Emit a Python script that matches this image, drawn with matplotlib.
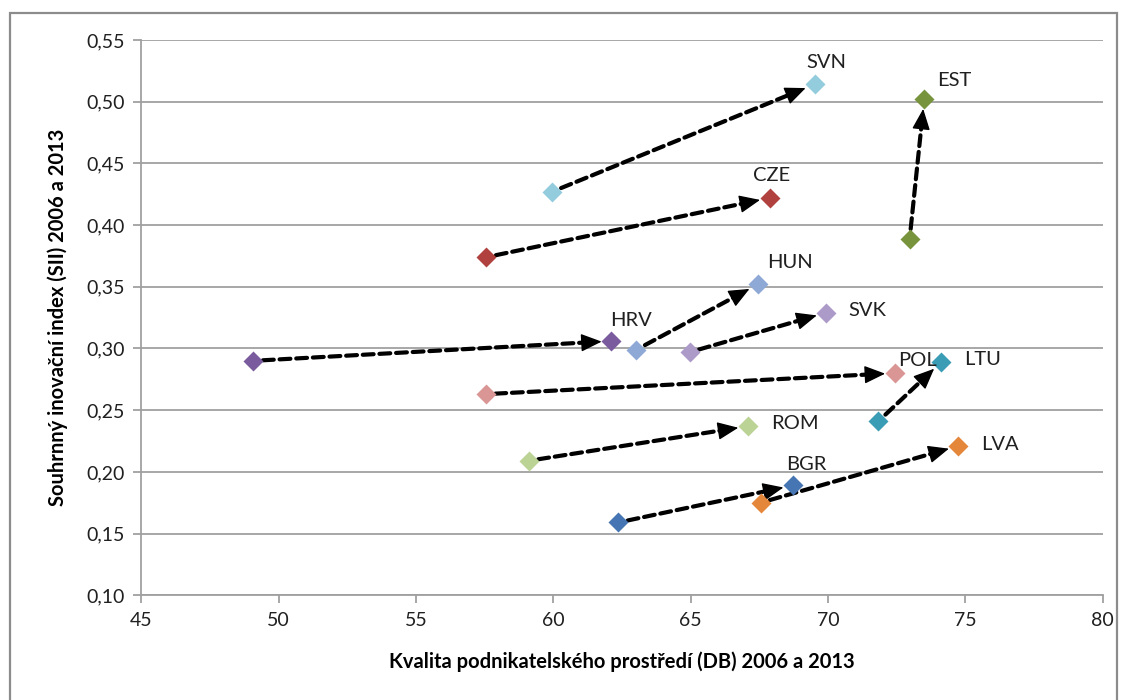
import numpy as np
import matplotlib
matplotlib.use("Agg")
import matplotlib.pyplot as plt
from matplotlib.patches import Rectangle

plt.rcParams["font.family"] = ["Lato", "DejaVu Sans"]

# DB score (x) and SII (y) per country, 2006 -> 2013
countries = ["SVN", "CZE", "EST", "HUN", "HRV", "SVK", "POL", "LTU", "ROM", "BGR", "LVA"]
db_2006   = [59.95, 57.56, 72.97, 63.02, 49.07, 64.96, 57.53, 71.83, 59.10, 62.36, 67.54]
db_2013   = [69.51, 67.87, 73.50, 67.45, 62.11, 69.93, 72.43, 74.12, 67.08, 68.72, 74.74]
sii_2006  = [0.427, 0.374, 0.389, 0.299, 0.290, 0.297, 0.263, 0.241, 0.209, 0.159, 0.175]
sii_2013  = [0.514, 0.422, 0.502, 0.352, 0.306, 0.329, 0.280, 0.289, 0.237, 0.189, 0.221]

colors = ["#93CDDD", "#B0413E", "#77933C", "#8EA9D6", "#7A5C9E", "#AC9BC8",
          "#D99694", "#3A9DB5", "#BBD394", "#4675B3", "#E5873A"]
# label offsets from the 2013 point, in pixels
label_off = [(12, 22), (2, 22), (30, 19), (32, 22), (20, 21), (41, 2),
             (23, 13), (41, 3), (47, 3), (13, 21), (42, 1)]

fig = plt.figure(figsize=(11.28, 7), dpi=100)
ax = fig.add_axes([0.1254, 0.1496, 0.8522, 0.7933])
ax.set_xlim(45, 80)
ax.set_ylim(0.10, 0.55)
ax.set_xticks(np.arange(45, 81, 5))
ax.set_yticks(np.arange(0.10, 0.551, 0.05))
ax.set_yticklabels([f"{v:.2f}".replace(".", ",") for v in np.arange(0.10, 0.551, 0.05)])

grey = "#A0A0A0"
ax.grid(axis="y", color=grey, lw=1.3)
ax.set_axisbelow(True)
for s in ["top", "right"]:
    ax.spines[s].set_visible(False)
for s in ["left", "bottom"]:
    ax.spines[s].set_color(grey)
    ax.spines[s].set_linewidth(1.3)
ax.tick_params(axis="both", direction="out", length=6, width=1.3, color=grey,
               labelsize=14, labelcolor="#202020", pad=6)

ax.set_xlabel("Kvalita podnikatelského prostředí (DB) 2006 a 2013",
              fontsize=14.5, fontweight="bold", labelpad=16)
ax.set_ylabel("Souhrnný inovační index (SII) 2006 a 2013",
              fontsize=14.5, fontweight="bold", labelpad=13)

# arrows: dashed shaft + solid head, stopping at the marker edge (sizes in points)
marker_r = 7
head_len = 13
for x0, y0, x1, y1 in zip(db_2006, sii_2006, db_2013, sii_2013):
    p0 = ax.transData.transform((x0, y0))
    p1 = ax.transData.transform((x1, y1))
    d = (p1 - p0) / np.hypot(*(p1 - p0))
    ax.annotate("", xy=(x1, y1), xytext=(x0, y0),
                arrowprops=dict(arrowstyle="-", color="black", lw=3,
                                linestyle=(0, (2.6, 1.4)), shrinkA=7,
                                shrinkB=marker_r + head_len - 3))
    back = -d * (marker_r + head_len)
    ax.annotate("", xy=(x1, y1), xytext=(back[0], back[1]),
                textcoords="offset points",
                arrowprops=dict(arrowstyle="-|>,head_length=0.65,head_width=0.28",
                                color="black", lw=1, shrinkA=0, shrinkB=marker_r,
                                mutation_scale=20))

for i, c in enumerate(countries):
    ax.plot([db_2006[i], db_2013[i]], [sii_2006[i], sii_2013[i]], "D",
            ms=10.5, color=colors[i], mec="none", zorder=5)
    ax.annotate(c, xy=(db_2013[i], sii_2013[i]), xytext=label_off[i],
                textcoords="offset pixels", ha="center", va="center",
                fontsize=14.5, color="#202020", zorder=6)

fig.patches.append(Rectangle((10 / 1128, -0.05), 1107 / 1128, 1.05 - 13 / 700,
                             transform=fig.transFigure, fill=False,
                             edgecolor="#8C8C8C", lw=1.6))

fig.savefig("out.png", dpi=100)
